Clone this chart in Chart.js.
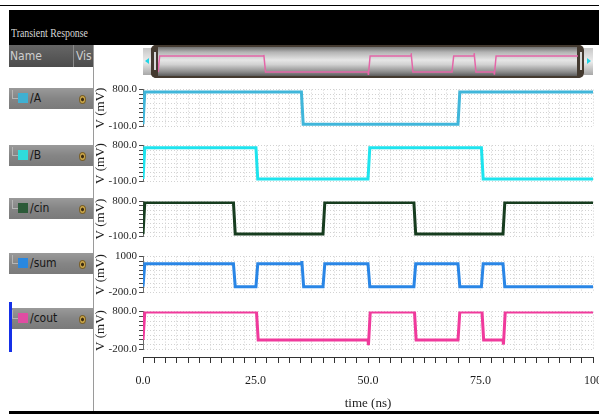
<!DOCTYPE html>
<html>
<head>
<meta charset="utf-8">
<script src="https://cdn.jsdelivr.net/npm/chart.js@4.4.0/dist/chart.umd.min.js"></script>
<style>
html, body { margin: 0; padding: 0; overflow: hidden; }
body { width: 599px; height: 414px; background: #fff; position: relative;
       font-family: 'Liberation Sans Narrow', 'DejaVu Sans Condensed', sans-serif; }
.abs { position: absolute; }
.row { position: absolute; left: 9px; width: 84px; height: 21px;
       background: linear-gradient(#9a9a9a, #858585 50%, #7a7a7a); }
.row .tree { position: absolute; left: 3px; top: 2px; width: 5px; height: 8px;
             border-left: 1px solid #b5b5b5; border-bottom: 1px solid #b5b5b5; }
.row .sw { position: absolute; left: 9px; top: 5px; width: 10px; height: 10px; }
.row .nm { position: absolute; left: 21px; top: 3px; font-size: 12px; color: #161616; }
.row .eye { position: absolute; left: 70px; top: 7px; width: 5px; height: 7px; border-radius: 50%;
            background: radial-gradient(#3a2a10 30%, #c9a548 45%); border: 1px solid #7a6028; }
.cap { position: absolute; top: 48px; width: 9px; height: 27px;
       background: linear-gradient(#c8c8c8, #ececec 50%, #a8a8a8); }
</style>
</head>
<body>

<div class="abs" style="left:0;top:5px;width:599px;height:1px;background:#000"></div>
<div class="abs" style="left:9px;top:10px;width:590px;height:35px;background:#000"></div>
<div class="abs" style="left:11px;top:26px;font-family:'Liberation Serif',serif;font-size:12px;color:#d6d6d6;transform:scaleX(0.82);transform-origin:left top;white-space:nowrap">Transient Response</div>

<div class="abs" style="left:9px;top:45px;width:84px;height:22px;background:linear-gradient(#666,#4c4c4c)"></div>
<div class="abs" style="left:10px;top:49px;font-size:12px;color:#cfcfcf">Name</div>
<div class="abs" style="left:73px;top:45px;width:1px;height:22px;background:#8a8a8a"></div>
<div class="abs" style="left:76px;top:49px;font-size:12px;color:#cfcfcf">Vis</div>

<div id="rows"></div>

<div class="abs" style="left:93px;top:45px;width:1px;height:366px;background:#9a9a9a"></div>
<div class="abs" style="left:9px;top:302px;width:3px;height:50px;background:#1530e8"></div>

<!-- overview strip -->
<div class="cap" style="left:143px"></div>
<div class="abs" style="left:145px;top:58px;width:0;height:0;border-top:3px solid transparent;border-bottom:3px solid transparent;border-right:4px solid #20d4e6"></div>
<div class="abs" style="left:151px;top:45px;width:428px;height:29px;border:2px solid #443a30;border-radius:5px;
     background:linear-gradient(#707070, #b4b4b4 18%, #e6e6e6 45%, #d2d2d2 60%, #8c8c8c 86%, #5c5c5c)"></div>
<div class="abs" style="left:151px;top:45px;width:7px;height:33px;background:#443a30;border-radius:5px 0 0 5px"></div>
<div class="abs" style="left:154px;top:52px;width:2px;height:18px;background:#d8d8d8"></div>
<div class="abs" style="left:577px;top:45px;width:7px;height:33px;background:#443a30;border-radius:0 5px 5px 0"></div>
<div class="abs" style="left:580px;top:52px;width:2px;height:18px;background:#d8d8d8"></div>
<div class="cap" style="left:584px"></div>
<div class="abs" style="left:587px;top:58px;width:0;height:0;border-top:3px solid transparent;border-bottom:3px solid transparent;border-left:4px solid #20d4e6"></div>

<div id="plots"></div>

<div class="abs" style="left:9px;top:411px;width:590px;height:3px;background:#000"></div>

<script>
// signals
const signalNames = ['/A', '/B', '/cin', '/sum', '/cout'];
const traceColors = ['#40b6da', '#1ee4ee', '#173d1f', '#2a86e6', '#f03a9c'];
const swatchColors = ['#3fb0d2', '#2edcdc', '#2c5a38', '#2a88e0', '#e04ca2'];

// edge points: time in ns, voltage in mV
const aTime = [0, 0.4, 35.2, 35.6, 70, 70.4, 100];
const aVolt = [-45, 740, 740, -45, -45, 740, 740];

const bTime = [0, 0.4, 25.1, 25.5, 50, 50.4, 75.2, 75.6, 100];
const bVolt = [-40, 745, 745, -40, -40, 745, 745, -40, -40];

const cinTime = [0, 0.4, 20.1, 20.5, 40, 40.4, 60.2, 60.6, 80, 80.4, 100];
const cinVolt = [-40, 775, 775, -40, -40, 775, 775, -40, -40, 775, 775];

const sumTime = [0, 0.4, 20.1, 20.5, 25.1, 25.5, 35.2, 35.3, 35.7, 40, 40.4, 50, 50.4, 60.2, 60.6, 70, 70.4, 75.2, 75.6, 80, 80.4, 100];
const sumVolt = [-10, 760, 760, -10, -10, 760, 760, 850, -10, -10, 760, 760, -10, -10, 760, 760, -10, -10, 760, 760, -10, -10];

const coutTime = [0, 0.4, 25.1, 25.2, 25.6, 50, 50.1, 50.5, 60.2, 60.3, 60.7, 70, 70.4, 75.2, 75.3, 75.7, 80, 80.1, 80.5, 100];
const coutVolt = [50, 790, 790, 840, 50, 50, -90, 790, 790, 860, 50, 50, 790, 790, 880, 50, 50, -70, 790, 790];

const signalTimes = [aTime, bTime, cinTime, sumTime, coutTime];
const signalVolts = [aVolt, bVolt, cinVolt, sumVolt, coutVolt];

// axes
const yMin = [-100, -100, -100, -200, -200];
const yMax = [800, 800, 800, 1000, 800];
const yTopLabels = ['800.0', '800.0', '800.0', '1000', '800.0'];
const yBottomLabels = ['-100.0', '-100.0', '-100.0', '-200.0', '-200.0'];
const timeLabels = ['0.0', '25.0', '50.0', '75.0', '100'];
const timeMin = 0, timeMax = 100, timeMinorStep = 2.5, timeMajorStep = 25;

// layout
const panelTop = [89, 145, 201, 256, 311];
const panelBottom = [127, 182, 237, 293, 350];
const rowTop = [88, 145, 198, 253, 308];

const serif = 'Liberation Serif';
const gridColor = '#d2d2d2';

function toPoints(times, volts) {
  return times.map((t, k) => ({ x: t, y: volts[k] }));
}

function timeTicks(scale) {
  const ticks = [];
  for (let t = timeMin; t <= timeMax + 1e-9; t += timeMinorStep) ticks.push({ value: t });
  scale.ticks = ticks;
}

function addCanvas(left, top, width, height) {
  const cv = document.createElement('canvas');
  cv.width = width;
  cv.height = height;
  cv.style.cssText = `position:absolute;left:${left}px;top:${top}px;width:${width}px;height:${height}px`;
  document.getElementById('plots').appendChild(cv);
  return cv;
}

// name list rows
const rows = document.getElementById('rows');
signalNames.forEach((name, i) => {
  const r = document.createElement('div');
  r.className = 'row';
  r.style.top = rowTop[i] + 'px';
  r.innerHTML = `<div class="tree"></div><div class="sw" style="background:${swatchColors[i]}"></div>` +
                `<div class="nm">${name}</div><div class="eye"></div>`;
  rows.appendChild(r);
});

// one strip per signal
signalNames.forEach((name, i) => {
  const pad = 8;
  const h = panelBottom[i] - panelTop[i] + 2 * pad;
  const cv = addCanvas(93, panelTop[i] - pad, 506, h);
  const lo = yMin[i], hi = yMax[i];
  new Chart(cv, {
    type: 'line',
    data: {
      datasets: [{
        label: name,
        data: toPoints(signalTimes[i], signalVolts[i]),
        borderColor: traceColors[i],
        borderWidth: 3,
        pointRadius: 0,
        tension: 0
      }]
    },
    options: {
      responsive: false,
      animation: false,
      layout: { padding: { top: pad, bottom: pad, left: 0, right: 6 } },
      plugins: { legend: { display: false }, tooltip: { enabled: false } },
      scales: {
        x: {
          type: 'linear', min: timeMin, max: timeMax,
          afterBuildTicks: timeTicks,
          ticks: { display: false },
          grid: { color: gridColor, drawTicks: false },
          border: { display: false, dash: [1, 2] }
        },
        y: {
          min: lo, max: hi,
          afterBuildTicks: (scale) => {
            const ticks = [];
            for (let k = 0; k <= 8; k++) ticks.push({ value: lo + (hi - lo) * k / 8 });
            scale.ticks = ticks;
          },
          afterFit: (scale) => { scale.width = 50; },
          ticks: {
            autoSkip: false, padding: 2, color: '#1e1e1e',
            font: { family: serif, size: 11 },
            callback: (v) => v === hi ? yTopLabels[i] : (v === lo ? yBottomLabels[i] : '')
          },
          grid: { color: gridColor, tickColor: '#4a4a4a', tickLength: 4 },
          border: { display: true, color: '#6a6a6a', dash: [1, 2] },
          title: {
            display: true, text: 'V (mV)', color: '#1e1e1e',
            font: { family: serif, size: 13 }, padding: { top: 0, bottom: 0 }
          }
        }
      }
    }
  });
});

// shared time axis
new Chart(addCanvas(93, 350, 527, 64), {
  type: 'line',
  data: { datasets: [] },
  options: {
    responsive: false,
    animation: false,
    layout: { padding: { top: 6, bottom: 0, left: 50, right: 27 } },
    plugins: { legend: { display: false }, tooltip: { enabled: false } },
    scales: {
      x: {
        type: 'linear', min: timeMin, max: timeMax,
        afterBuildTicks: timeTicks,
        afterFit: (scale) => { scale.height = 57; },
        ticks: {
          autoSkip: false, maxRotation: 0, padding: 11, color: '#1e1e1e',
          font: { family: serif, size: 12 },
          callback: (v) => Math.abs(v % timeMajorStep) < 1e-9 ? timeLabels[Math.round(v / timeMajorStep)] : ''
        },
        grid: { drawOnChartArea: false, tickLength: 6, tickColor: '#333', color: '#333' },
        border: { display: true, color: '#333' },
        title: {
          display: true, text: 'time (ns)', color: '#1e1e1e',
          font: { family: serif, size: 13 }, padding: { top: 0, bottom: 3 }
        }
      },
      y: { display: false, min: 0, max: 1 }
    }
  }
});

// overview trace in the strip
new Chart(addCanvas(158, 53, 420, 22), {
  type: 'line',
  data: {
    datasets: [{
      data: toPoints(coutTime, coutVolt),
      borderColor: '#e466a8',
      borderWidth: 1.5,
      pointRadius: 0,
      tension: 0,
      clip: 4
    }]
  },
  options: {
    responsive: false,
    animation: false,
    layout: { padding: 0 },
    plugins: { legend: { display: false }, tooltip: { enabled: false } },
    scales: {
      x: { type: 'linear', display: false, min: timeMin, max: timeMax },
      y: { display: false, min: -89, max: 929 }
    }
  }
});
</script>
</body>
</html>
